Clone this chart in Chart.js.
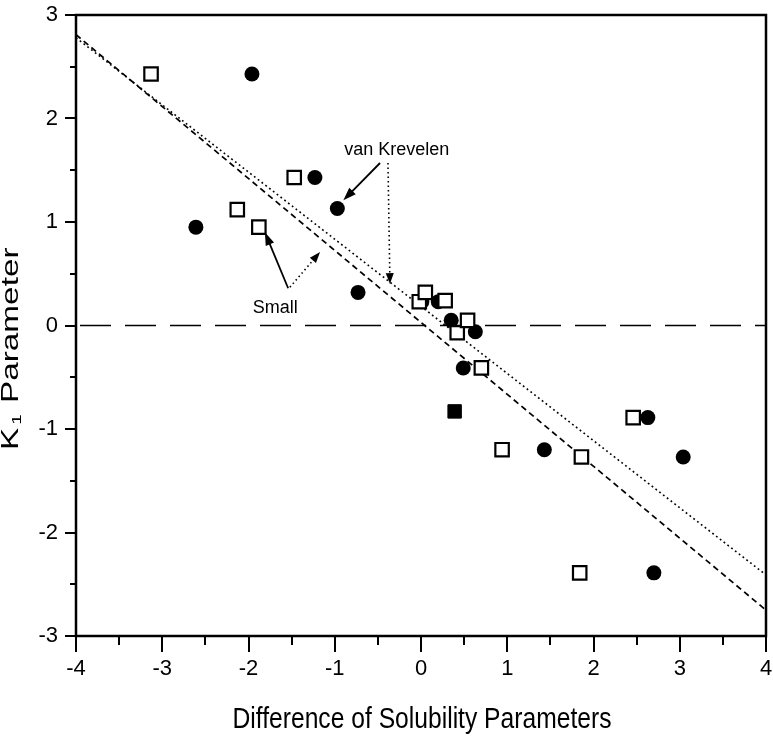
<!DOCTYPE html>
<html>
<head>
<meta charset="utf-8">
<script src="https://cdn.jsdelivr.net/npm/chart.js@4.4.1/dist/chart.umd.min.js"></script>
<style>
  html, body { margin: 0; padding: 0; background: #fff; }
  #wrap { width: 773px; height: 736px; }
</style>
</head>
<body>
<div id="wrap"><canvas id="myChart" width="773" height="736"></canvas></div>
<script>
// Small method (open squares)
const smallX = [-3.13, -2.13, -1.88, -1.47, -0.02, 0.05, 0.28, 0.42, 0.54, 0.70, 0.94, 1.86, 1.84, 2.46];
const smallY = [2.43, 1.12, 0.95, 1.43, 0.23, 0.32, 0.24, -0.07, 0.05, -0.41, -1.20, -1.27, -2.39, -0.89];

// van Krevelen method (filled circles)
const vkX = [-2.61, -1.96, -1.23, -0.97, -0.73, 0.01, 0.20, 0.35, 0.63, 0.49, 1.43, 2.63, 3.04, 2.70];
const vkY = [0.95, 2.43, 1.43, 1.13, 0.32, 0.23, 0.23, 0.05, -0.06, -0.41, -1.20, -0.89, -1.27, -2.39];

// overlapping point (filled square)
const overlapX = [0.39];
const overlapY = [-0.83];

// fitted lines (end points)
const dashedLineX = [-4, 4];
const dashedLineY = [2.81, -2.75];
const dottedLineX = [-4, 4];
const dottedLineY = [2.78, -2.41];
const zeroLineX = [-4, 4];
const zeroLineY = [0, 0];

const xTicks = [-4, -3, -2, -1, 0, 1, 2, 3, 4];
const yTicks = [-3, -2, -1, 0, 1, 2, 3];

const toPoints = (xs, ys) => xs.map((x, i) => ({ x: x, y: ys[i] }));

// arrows and labels, in data units
const notes = [
  { text: "van Krevelen", x: -0.28, y: 1.65 },
  { text: "Small", x: -1.69, y: 0.12 }
];
const arrows = [
  { from: [-0.475, 1.57], to: [-0.90, 1.21], dotted: false },
  { from: [-0.383, 1.57], to: [-0.36, 0.40], dotted: true },
  { from: [-1.54, 0.36], to: [-1.81, 0.90], dotted: false },
  { from: [-1.52, 0.37], to: [-1.17, 0.71], dotted: true }
];

function drawArrow(ctx, x1, y1, x2, y2, dotted) {
  const ang = Math.atan2(y2 - y1, x2 - x1);
  const headLen = dotted ? 11 : 13;
  const headW = dotted ? 4 : 4.5;
  ctx.save();
  ctx.strokeStyle = "#000";
  ctx.fillStyle = "#000";
  ctx.lineWidth = dotted ? 1.6 : 1.8;
  ctx.setLineDash(dotted ? [1.5, 3] : []);
  ctx.beginPath();
  ctx.moveTo(x1, y1);
  ctx.lineTo(x2 - Math.cos(ang) * headLen * 0.8, y2 - Math.sin(ang) * headLen * 0.8);
  ctx.stroke();
  ctx.setLineDash([]);
  ctx.beginPath();
  ctx.moveTo(x2, y2);
  ctx.lineTo(x2 - Math.cos(ang) * headLen - Math.sin(ang) * headW, y2 - Math.sin(ang) * headLen + Math.cos(ang) * headW);
  ctx.lineTo(x2 - Math.cos(ang) * headLen + Math.sin(ang) * headW, y2 - Math.sin(ang) * headLen - Math.cos(ang) * headW);
  ctx.closePath();
  ctx.fill();
  ctx.restore();
}

const framePlugin = {
  id: "frame",
  afterDraw(chart) {
    const ctx = chart.ctx;
    const area = chart.chartArea;
    const xs = chart.scales.x;
    const ys = chart.scales.y;

    ctx.save();
    ctx.strokeStyle = "#000";

    // box
    ctx.lineWidth = 2.5;
    ctx.strokeRect(area.left, area.top, area.right - area.left, area.bottom - area.top);

    // outward ticks, major and minor
    ctx.lineWidth = 2;
    for (let v = -4; v <= 4.001; v += 0.5) {
      const px = Math.round(xs.getPixelForValue(v));
      const len = Number.isInteger(v) ? 16 : 9;
      ctx.beginPath();
      ctx.moveTo(px, area.bottom);
      ctx.lineTo(px, area.bottom + len);
      ctx.stroke();
    }
    for (let v = -3; v <= 3.001; v += 0.5) {
      const py = Math.round(ys.getPixelForValue(v));
      const len = Number.isInteger(v) ? 11 : 6;
      ctx.beginPath();
      ctx.moveTo(area.left, py);
      ctx.lineTo(area.left - len, py);
      ctx.stroke();
    }

    // annotation labels
    ctx.fillStyle = "#000";
    ctx.font = "18px 'Liberation Sans', Arial, sans-serif";
    ctx.textAlign = "center";
    ctx.textBaseline = "alphabetic";
    notes.forEach((n) => {
      ctx.fillText(n.text, xs.getPixelForValue(n.x), ys.getPixelForValue(n.y));
    });

    arrows.forEach((a) => {
      drawArrow(ctx,
        xs.getPixelForValue(a.from[0]), ys.getPixelForValue(a.from[1]),
        xs.getPixelForValue(a.to[0]), ys.getPixelForValue(a.to[1]),
        a.dotted);
    });

    // x axis title, condensed like the original
    ctx.save();
    ctx.translate(422, 728);
    ctx.scale(0.85, 1);
    ctx.font = "29px 'Liberation Sans', Arial, sans-serif";
    ctx.textAlign = "center";
    ctx.fillText("Difference of Solubility Parameters", 0, 0);
    ctx.restore();

    // y axis title, K with subscript 1
    ctx.translate(18, 450);
    ctx.rotate(-Math.PI / 2);
    ctx.scale(1.45, 1);
    ctx.textAlign = "left";
    ctx.font = "23px 'Liberation Sans', Arial, sans-serif";
    ctx.fillText("K", 0, 0);
    const kw = ctx.measureText("K").width;
    ctx.font = "13px 'Liberation Sans', Arial, sans-serif";
    ctx.fillText("1", kw + 2, 3);
    ctx.font = "23px 'Liberation Sans', Arial, sans-serif";
    ctx.fillText("Parameter", kw + 17, 0);

    ctx.restore();
  }
};

const config = {
  type: "scatter",
  data: {
    datasets: [
      {
        label: "Small",
        data: toPoints(smallX, smallY),
        pointStyle: "rect",
        pointRadius: 9.5,
        pointBorderWidth: 2.2,
        backgroundColor: "#ffffff",
        borderColor: "#000000",
        order: 1
      },
      {
        label: "van Krevelen",
        data: toPoints(vkX, vkY),
        pointStyle: "circle",
        pointRadius: 7.5,
        pointBorderWidth: 0,
        backgroundColor: "#000000",
        borderColor: "#000000",
        order: 1
      },
      {
        label: "overlap",
        data: toPoints(overlapX, overlapY),
        pointStyle: "rect",
        pointRadius: 9.5,
        pointBorderWidth: 1,
        backgroundColor: "#000000",
        borderColor: "#000000",
        order: 1
      },
      {
        type: "line",
        label: "Small fit",
        data: toPoints(dashedLineX, dashedLineY),
        borderColor: "#000000",
        borderWidth: 1.7,
        borderDash: [6, 4],
        pointRadius: 0,
        fill: false,
        order: 3
      },
      {
        type: "line",
        label: "van Krevelen fit",
        data: toPoints(dottedLineX, dottedLineY),
        borderColor: "#000000",
        borderWidth: 1.6,
        borderDash: [1.8, 3],
        pointRadius: 0,
        fill: false,
        order: 3
      },
      {
        type: "line",
        label: "zero",
        data: toPoints(zeroLineX, zeroLineY),
        borderColor: "#000000",
        borderWidth: 1.6,
        borderDash: [31, 14],
        borderDashOffset: -4,
        pointRadius: 0,
        fill: false,
        order: 3
      }
    ]
  },
  plugins: [framePlugin],
  options: {
    responsive: false,
    animation: false,
    devicePixelRatio: 1,
    layout: {
      autoPadding: false,
      padding: { top: 15, right: 7, left: 0, bottom: 0 }
    },
    plugins: {
      legend: { display: false },
      tooltip: { enabled: false }
    },
    scales: {
      x: {
        type: "linear",
        min: -4,
        max: 4,
        afterBuildTicks: (scale) => {
          scale.ticks = xTicks.map((v) => ({ value: v }));
        },
        afterFit: (scale) => {
          scale.height = 100;
          scale.paddingLeft = 0;
          scale.paddingRight = 0;
        },
        grid: { display: false, drawTicks: false },
        border: { display: false },
        ticks: {
          color: "#000",
          padding: 20,
          maxRotation: 0,
          font: { family: "'Liberation Sans', Arial, sans-serif", size: 22 }
        }
      },
      y: {
        type: "linear",
        min: -3,
        max: 3,
        afterBuildTicks: (scale) => {
          scale.ticks = yTicks.map((v) => ({ value: v }));
        },
        afterFit: (scale) => {
          scale.width = 76;
          scale.paddingTop = 0;
          scale.paddingBottom = 0;
        },
        grid: { display: false, drawTicks: false },
        border: { display: false },
        ticks: {
          color: "#000",
          padding: 18,
          font: { family: "'Liberation Sans', Arial, sans-serif", size: 22 }
        }
      }
    }
  }
};

new Chart(document.getElementById("myChart"), config);
</script>
</body>
</html>
